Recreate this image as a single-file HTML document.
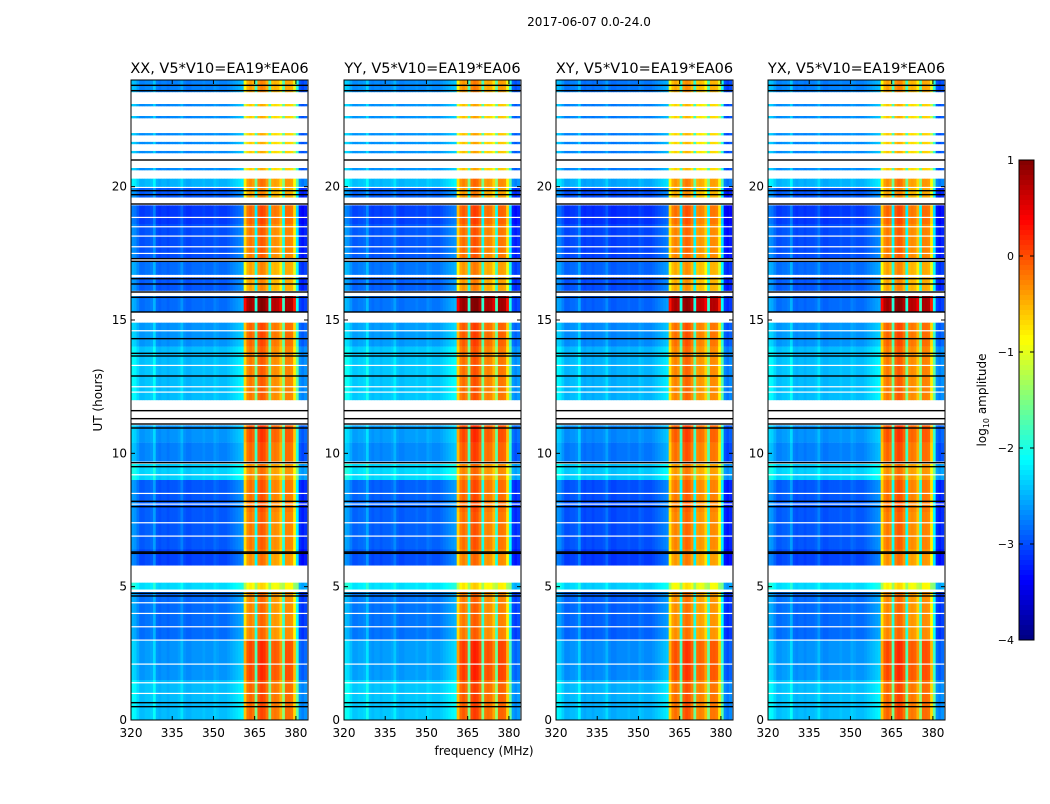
<!DOCTYPE html>
<html><head><meta charset="utf-8">
<style>
body{margin:0;background:#fff;width:1050px;height:800px;overflow:hidden;font-family:"DejaVu Sans","Liberation Sans",sans-serif;}
svg text{font-family:"DejaVu Sans","Liberation Sans",sans-serif;}
</style></head>
<body>
<svg id="fig" width="1050" height="800" xmlns="http://www.w3.org/2000/svg">
<text x="589" y="26" font-size="12" text-anchor="middle">2017-06-07 0.0-24.0</text>
<text x="484" y="755" font-size="12" text-anchor="middle">frequency (MHz)</text>
<text transform="translate(102,400) rotate(-90)" font-size="12" text-anchor="middle">UT (hours)</text>
</svg>
<script>
// ---- data ----
const panelTitles = ["XX, V5*V10=EA19*EA06","YY, V5*V10=EA19*EA06","XY, V5*V10=EA19*EA06","YX, V5*V10=EA19*EA06"];
const panelOffsets = [0, 0.05, -0.05, 0];
const channelStart = [320,321,322,323,324,325,326,327,328,329,330,331,332,333,334,335,336,337,338,339,340,341,342,343,344,345,346,347,348,349,350,351,352,353,354,355,356,357,358,359,360,361,362,363,364,365,366,367,368,369,370,371,372,373,374,375,376,377,378,379,380,381,382,383];
const channelLevel = [0.35,0.3,0.15,0,0,0.05,0.05,0.1,0.35,0,-0.05,0,0,-0.05,0,0,0,0.05,0.2,0,-0.05,-0.05,0,0,0,0,0.05,0,0,0,0.1,0.05,0,0,0,0.05,0.1,0.15,0.2,0.25,0.3, -0.7,-0.3,-0.2,-0.3,-1.8,-0.15,-0.05,-0.1,-0.3,-1.8,-0.35,-0.3,-0.35,-0.6,-1.7,-0.25,-0.25,-0.3,-0.8,-1.9,-0.2,-0.3,-0.2];
const isRfi = [0,0,0,0,0,0,0,0,0,0,0,0,0,0,0,0,0,0,0,0,0,0,0,0,0,0,0,0,0,0,0,0,0,0,0,0,0,0,0,0,0,1,1,1,1,2,1,1,1,1,2,1,1,1,1,2,1,1,1,1,2,0,0,0];
const segStart = [23.55,20.0,19.6,18.6,17.3,16.7,16.1,15.3,14.0,12.0,10.4,9.7,9.0,7.8,6.4,5.8,4.9,3.0,1.5,0.0];
const segEnd   = [24.0,20.3,19.95,19.3,18.6,17.2,16.6,15.9,14.9,14.0,11.05,10.4,9.6,9.0,7.8,6.4,5.15,4.8,3.0,1.5];
const segBg    = [-2.75,-2.5,-2.95,-3.1,-3.0,-2.85,-2.95,-2.85,-2.65,-2.45,-2.65,-2.75,-2.35,-2.95,-2.95,-3.05,-2.3,-2.85,-2.65,-2.45];
const segRfi   = [-0.5,-0.4,-0.5,-0.2,-0.3,-0.5,-0.5,0.75,-0.2,-0.3,-0.1,-0.2,-0.4,-0.25,-0.3,-0.4,-0.9,-0.35,-0.05,-0.2];
const thinRows = [23.06,22.61,21.97,21.64,21.3,20.66];
const whiteLines = [18.85,18.5,18.15,17.75,17.5,14.6,13.3,12.5,12.3,9.2,8.5,8.1,7.4,6.9,4.4,4.0,3.5,3.0,2.1,1.4,1.0];
const blackLines = [23.8,23.6,21.0,19.85,19.7,19.35,17.3,17.2,16.55,16.35,16.05,15.85,15.3,14.3,13.75,13.65,12.9,11.6,11.3,11.1,10.95,9.65,9.5,8.2,8.0,6.3,6.25,4.75,4.65,0.65,0.5];
const yTicks = [0,5,10,15,20];
const xTicks = [320,335,350,365,380];
const cbTicks = [1,0,-1,-2,-3,-4];
// ---- helpers ----
const NS="http://www.w3.org/2000/svg";
const svg=document.getElementById('fig');
function mk(tag,attrs,parent){const e=document.createElementNS(NS,tag);for(const k in attrs)e.setAttribute(k,attrs[k]);(parent||svg).appendChild(e);return e;}
function jet(v){let t=(v+4)/5;t=Math.max(0,Math.min(1,t));
 const r=Math.max(0,Math.min(1,Math.min(4*t-1.5,-4*t+4.5)));
 const g=Math.max(0,Math.min(1,Math.min(4*t-0.5,-4*t+3.5)));
 const b=Math.max(0,Math.min(1,Math.min(4*t+0.5,-4*t+2.5)));
 return `rgb(${Math.round(r*255)},${Math.round(g*255)},${Math.round(b*255)})`;}
const panelX=[131,344,556,768], PW=177, PT=80, PB=720;
const fMin=320,fMax=384.4,hMin=0,hMax=24;
panelX.forEach((x0,p)=>{
 const xs=f=>x0+(f-fMin)/(fMax-fMin)*PW;
 const ys=h=>PB-(h-hMin)/(hMax-hMin)*(PB-PT);
 const g=mk('g',{});
 
 
 const clip=mk('clipPath',{id:'c'+p},g);mk('rect',{x:x0,y:PT,width:PW,height:PB-PT},clip);
 const hm=mk('g',{'clip-path':`url(#c${p})`},g);
 
 
 function rowCells(h0,h1,bg,rfi){
  channelStart.forEach((f,j)=>{
   const v=(isRfi[j]===1?rfi+channelLevel[j]+0.3:(isRfi[j]===2?bg+0.9+(channelLevel[j]+1.8):bg+channelLevel[j]))+panelOffsets[p];
   const r=mk('rect',{x:xs(f),y:ys(h1),width:xs(f+1)-xs(f)+0.3,height:ys(h0)-ys(h1)+0.2,fill:jet(v)},hm);
   
   
  });}
 segStart.forEach((s,i)=>rowCells(s,segEnd[i],segBg[i],segRfi[i]));
 thinRows.forEach(h=>rowCells(h-0.04,h+0.04,-2.7,-0.7));
 whiteLines.forEach(h=>{const l=mk('rect',{x:x0,y:ys(h)-0.5,width:PW,height:1.2,fill:'#fff'},hm);
  });
 blackLines.forEach(h=>{const l=mk('rect',{x:x0,y:ys(h)-0.7,width:PW,height:1.4,fill:'#000'},hm);
  });
 const fr=mk('rect',{x:x0,y:PT,width:PW,height:PB-PT,fill:'none',stroke:'#000','stroke-width':1},g);
 
 yTicks.forEach(t=>{const y=ys(t);
  mk('line',{x1:x0,x2:x0+4,y1:y,y2:y,stroke:'#000'},g);mk('line',{x1:x0+PW,x2:x0+PW-4,y1:y,y2:y,stroke:'#000'},g);
  const tx=mk('text',{x:x0-4,y:y+4,'font-size':12,'text-anchor':'end'},g);tx.textContent=t;
  });
 xTicks.forEach(t=>{const x=xs(t);
  mk('line',{x1:x,x2:x,y1:PB,y2:PB-4,stroke:'#000'},g);mk('line',{x1:x,x2:x,y1:PT,y2:PT+4,stroke:'#000'},g);
  const tx=mk('text',{x:x,y:PB+17,'font-size':12,'text-anchor':'middle'},g);tx.textContent=t;
  });
 const tt=mk('text',{x:x0+PW/2,y:73,'font-size':14.5,'text-anchor':'middle'},g);tt.textContent=panelTitles[p];
 
});
// colorbar
const cb=mk('g',{});


const cy=v=>160+(1-v)*96;
for(let i=0;i<96;i++){const v=1-i*5/96;mk('rect',{x:1019,y:160+i*5,width:15,height:5.3,fill:jet(v-5/192)},cb);}
mk('rect',{x:1019,y:160,width:15,height:480,fill:'none',stroke:'#000'},cb);
cbTicks.forEach(t=>{const y=cy(t);
 mk('line',{x1:1019,x2:1023,y1:y,y2:y,stroke:'#000'},cb);mk('line',{x1:1034,x2:1030,y1:y,y2:y,stroke:'#000'},cb);
 const tx=mk('text',{x:1014,y:y+4,'font-size':11,'text-anchor':'end'},cb);tx.textContent=t<0?'\u2212'+(-t):t;
 });
const cl=mk('text',{transform:'translate(986,400) rotate(-90)','font-size':12,'text-anchor':'middle'},cb);
cl.innerHTML='log<tspan font-size="8" dy="3">10</tspan><tspan dy="-3"> amplitude</tspan>';

</script>
</body></html>
